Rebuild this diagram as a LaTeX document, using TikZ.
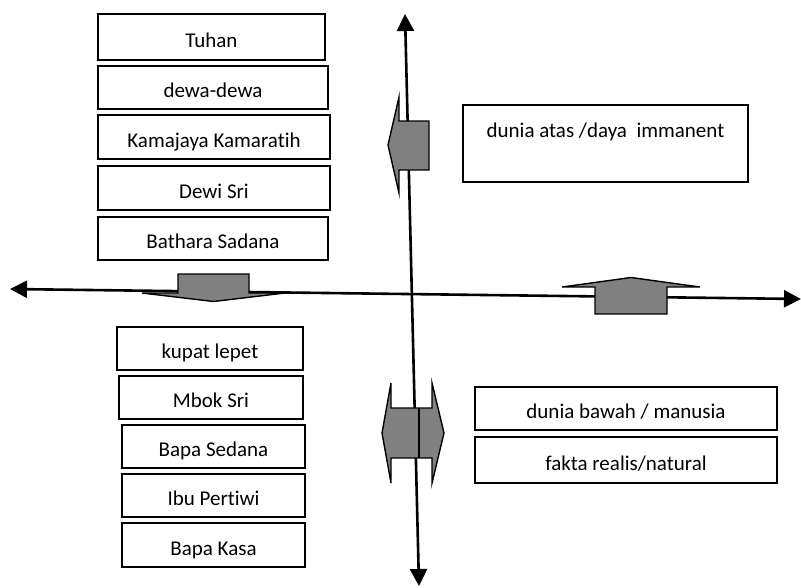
\documentclass[tikz,border=0pt]{standalone}
\usepackage{fontspec}
\setmainfont{Carlito}[Ligatures=NoCommon]
\usetikzlibrary{arrows.meta}
\begin{document}
\begin{tikzpicture}[x=1pt,y=-1pt,
  txt/.style={font=\fontsize{21}{25}\selectfont},
  box/.style={draw, line width=1.6pt, inner sep=0pt, text height=20pt, text depth=0pt, txt},
  axis/.style={line width=2.6pt, {Triangle[length=17pt,width=17pt]}-{Triangle[length=17pt,width=17pt]}},
  blockarrow/.style={draw, fill=gray, line width=1.4pt, line join=miter}]
\useasboundingbox (0,0) rectangle (801,587);

% axes
\coordinate (vt) at (405,14);
\coordinate (vb) at (419,586);
\coordinate (hl) at (10,289);
\coordinate (hr) at (801,299);
\draw[axis] (vb) -- (vt);
\draw[axis] (hl) -- (hr);

% upper left boxes
\node[box, minimum width=227pt, minimum height=46pt] (tuhan) at (211.5,37) {Tuhan};
\node[box, minimum width=230pt, minimum height=43pt] (dewa) at (213,87.5) {dewa-dewa};
\node[box, minimum width=232pt, minimum height=44pt] (kama) at (214,137) {Kamajaya Kamaratih};
\node[box, minimum width=232pt, minimum height=44pt] (dewi) at (214,188) {Dewi Sri};
\node[box, minimum width=230pt, minimum height=43pt] (bathara) at (213,238.5) {Bathara Sadana};

% lower left boxes
\node[box, minimum width=186pt, minimum height=43pt] (kupat) at (210,348.5) {kupat lepet};
\node[box, minimum width=184pt, minimum height=43pt] (mbok) at (211,397.5) {Mbok Sri};
\node[box, minimum width=183pt, minimum height=43pt] (bapas) at (213.5,446.5) {Bapa Sedana};
\node[box, minimum width=183pt, minimum height=43pt] (ibu) at (213.5,495.5) {Ibu Pertiwi};
\node[box, minimum width=183pt, minimum height=44pt] (bapak) at (213.5,545) {Bapa Kasa};

% right boxes
\node[box, minimum width=285pt, minimum height=77pt,
  label={[anchor=base, yshift=-33pt, txt]north:dunia atas /daya\ \ immanent}] (atas) at (605.5,143.5) {};
\node[box, minimum width=302pt, minimum height=43pt] (bawah) at (626,408.5) {dunia bawah / manusia};
\node[box, minimum width=302pt, minimum height=46pt] (fakta) at (626,460) {fakta realis/natural};

% block arrows
\draw[blockarrow] (388,145) -- (399,97) -- (399,121) -- (429,121) -- (429,170) -- (399,170) -- (399,193) -- cycle;
\draw[blockarrow] (178,274) -- (249,274) -- (249,293) -- (285,293) -- (213.5,301.5) -- (142,293) -- (178,293) -- cycle;
\draw[blockarrow] (595,314) -- (595,287) -- (562,287) -- (631,277.5) -- (700,287) -- (667,287) -- (667,314) -- cycle;
\draw[blockarrow] (382,433) -- (391,383) -- (391,408) -- (432,408) -- (432,383) -- (444,433) -- (432,483) -- (432,458) -- (391,458) -- (391,483) -- cycle;
\draw[line width=1.4pt] (419,408) -- (419,458);
\end{tikzpicture}
\end{document}
